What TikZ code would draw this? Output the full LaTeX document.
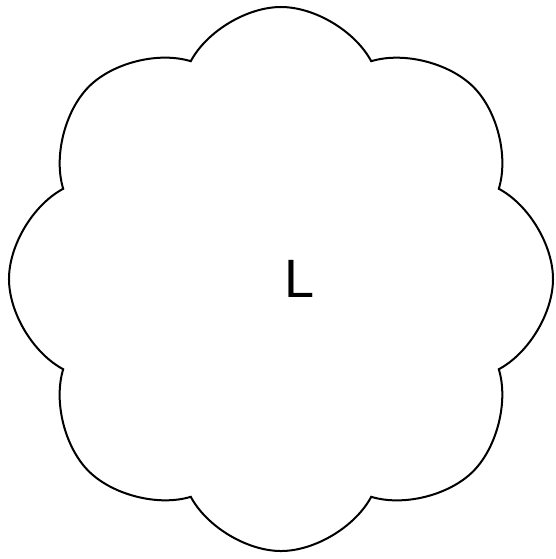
\documentclass[tikz,border=0pt]{standalone}
\usepackage{fontspec}
\setmainfont{Liberation Sans}
\usetikzlibrary{shapes.symbols}

\begin{document}
\begin{tikzpicture}[x=0.5pt, y=-0.5pt,
  lobe/.style={cloud, draw, line width=1pt, cloud puffs=8, cloud puff arc=124, aspect=1,
    minimum width=272pt, minimum height=272pt, inner sep=0pt},
  label/.style={font=\fontsize{27}{30}\selectfont}
]
\useasboundingbox (0,0) rectangle (556,559);
\node[lobe] (cloud) at (281,279) {};
\node[label] (name) at (300,279) {L};
\end{tikzpicture}
\end{document}
